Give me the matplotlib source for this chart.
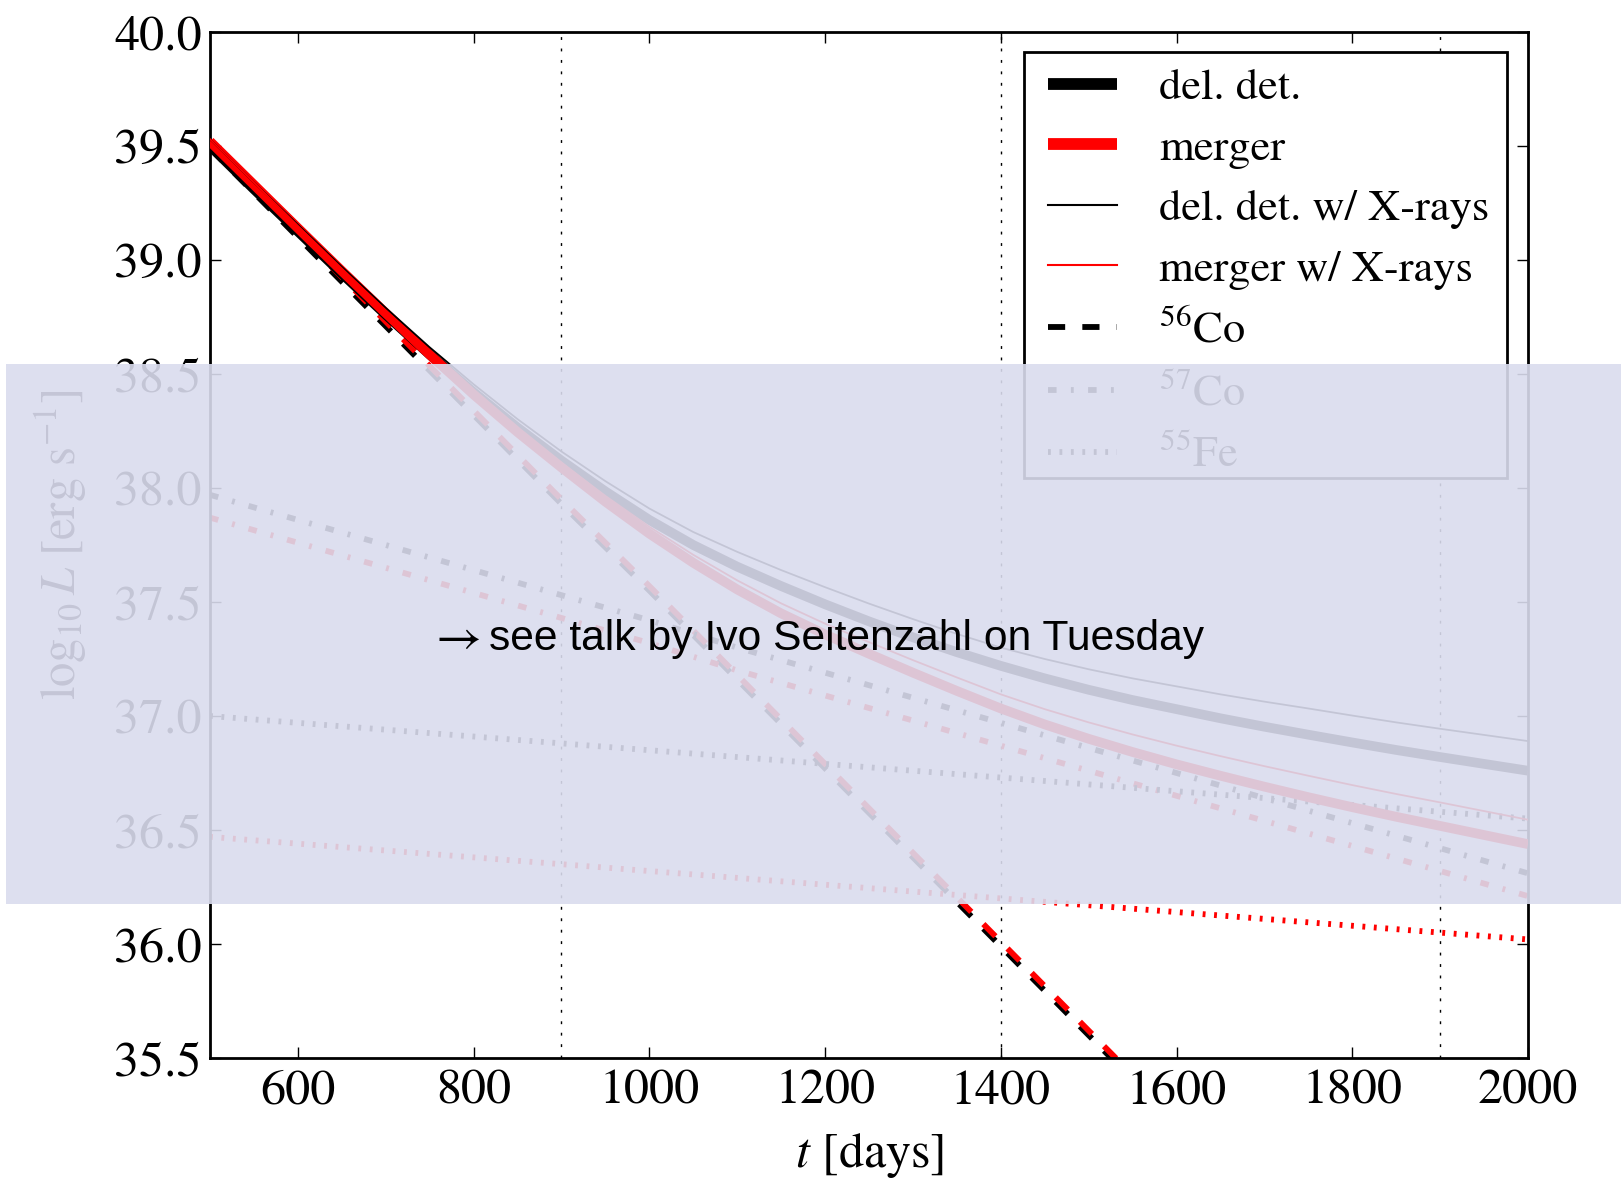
import matplotlib
matplotlib.use("Agg")
import matplotlib.pyplot as plt
from matplotlib.lines import Line2D
from matplotlib.patches import Rectangle

plt.rcParams["font.family"] = ["STIXGeneral", "DejaVu Serif"]
plt.rcParams["mathtext.fontset"] = "stix"
plt.rcParams["lines.scale_dashes"] = False

# Time grid [days] for the total light curves
t_fine = [500, 550, 600, 650, 700, 750, 800, 850, 900, 950, 1000, 1050, 1100, 1150,
          1200, 1250, 1300, 1350, 1400, 1450, 1500, 1550, 1600, 1650, 1700, 1750,
          1800, 1850, 1900, 1950, 2000]

# log10 L [erg/s] -- total light curves
deldet_total = [39.500, 39.310, 39.125, 38.940, 38.760, 38.585, 38.420, 38.265, 38.120,
                37.985, 37.860, 37.750, 37.655, 37.570, 37.490, 37.415, 37.345, 37.280,
                37.220, 37.165, 37.115, 37.070, 37.030, 36.990, 36.953, 36.918, 36.884,
                36.851, 36.820, 36.790, 36.760]
merger_total = [39.520, 39.330, 39.140, 38.952, 38.767, 38.585, 38.410, 38.245, 38.090,
                37.940, 37.800, 37.672, 37.555, 37.450, 37.358, 37.273, 37.190, 37.110,
                37.033, 36.963, 36.900, 36.842, 36.788, 36.738, 36.690, 36.644, 36.600,
                36.558, 36.518, 36.478, 36.438]
deldet_xray = [39.530, 39.340, 39.155, 38.970, 38.790, 38.617, 38.455, 38.302, 38.160,
               38.030, 37.910, 37.807, 37.720, 37.640, 37.565, 37.493, 37.425, 37.360,
               37.300, 37.250, 37.205, 37.165, 37.130, 37.095, 37.063, 37.033, 37.002,
               36.972, 36.944, 36.917, 36.890]
merger_xray = [39.530, 39.340, 39.150, 38.963, 38.779, 38.599, 38.425, 38.262, 38.110,
               37.965, 37.830, 37.707, 37.595, 37.494, 37.405, 37.324, 37.245, 37.169,
               37.095, 37.030, 36.972, 36.919, 36.870, 36.824, 36.780, 36.738, 36.697,
               36.658, 36.621, 36.583, 36.545]

# Time grid [days] for the individual isotopes
t_days = [500, 600, 700, 800, 900, 1000, 1100, 1200, 1300, 1400,
          1500, 1600, 1700, 1800, 1900, 2000]

co56_deldet = [39.49, 39.10, 38.71, 38.32, 37.93, 37.55, 37.16, 36.77, 36.38, 35.99,
               35.60, 35.21, 34.82, 34.43, 34.04, 33.65]
co56_merger = [39.51, 39.12, 38.73, 38.34, 37.95, 37.57, 37.18, 36.79, 36.40, 36.01,
               35.62, 35.23, 34.84, 34.45, 34.06, 33.67]
co57_deldet = [37.97, 37.86, 37.75, 37.64, 37.53, 37.42, 37.30, 37.19, 37.08, 36.97,
               36.86, 36.75, 36.64, 36.53, 36.42, 36.31]
co57_merger = [37.87, 37.76, 37.65, 37.54, 37.43, 37.32, 37.20, 37.09, 36.98, 36.87,
               36.76, 36.65, 36.54, 36.43, 36.32, 36.21]
fe55_deldet = [37.00, 36.97, 36.94, 36.91, 36.88, 36.85, 36.82, 36.79, 36.76, 36.73,
               36.70, 36.67, 36.64, 36.61, 36.58, 36.55]
fe55_merger = [36.47, 36.44, 36.41, 36.38, 36.35, 36.32, 36.29, 36.26, 36.23, 36.20,
               36.17, 36.14, 36.11, 36.08, 36.05, 36.02]

epochs = [900, 1400, 1900]

x_ticks = [600, 800, 1000, 1200, 1400, 1600, 1800, 2000]
y_ticks = [35.5, 36.0, 36.5, 37.0, 37.5, 38.0, 38.5, 39.0, 39.5, 40.0]

legend_labels = ["del. det.", "merger", "del. det. w/ X-rays", "merger w/ X-rays",
                 r"$^{56}$Co", r"$^{57}$Co", r"$^{55}$Fe"]
note_arrow = r"$\rightarrow$"
note_text = "see talk by Ivo Seitenzahl on Tuesday"

# dash patterns (points)
u = 2.06
DASHED = (6 * u, 6 * u)
DASHDOT = (3 * u, 5 * u, 1 * u, 5 * u)
DOTTED = (1 * u, 3 * u)

W, H = 1621, 1179
fig = plt.figure(figsize=(W / 100, H / 100), dpi=100)
ax = fig.add_axes([210 / W, 1 - 1058 / H, 1318 / W, 1026 / H])

for e in epochs:
    ax.axvline(e, color="black", lw=1.0, dashes=DOTTED, zorder=1)

comp_lw = 4.2
ax.plot(t_days, co56_deldet, color="black", lw=comp_lw, dashes=DASHED, zorder=2)
ax.plot(t_days, co56_merger, color="red", lw=comp_lw, dashes=DASHED, zorder=2)
ax.plot(t_days, co57_deldet, color="black", lw=comp_lw, dashes=DASHDOT, zorder=2)
ax.plot(t_days, co57_merger, color="red", lw=comp_lw, dashes=DASHDOT, zorder=2)
ax.plot(t_days, fe55_deldet, color="black", lw=comp_lw, dashes=DOTTED, zorder=2)
ax.plot(t_days, fe55_merger, color="red", lw=comp_lw, dashes=DOTTED, zorder=2)

ax.plot(t_fine, deldet_total, color="black", lw=7.0, zorder=3, solid_capstyle="butt")
ax.plot(t_fine, merger_total, color="red", lw=7.0, zorder=3, solid_capstyle="butt")
ax.plot(t_fine, deldet_xray, color="black", lw=1.3, zorder=4)
ax.plot(t_fine, merger_xray, color="red", lw=1.3, zorder=4)

ax.set_xlim(500, 2000)
ax.set_ylim(35.5, 40.0)
ax.set_xticks(x_ticks)
ax.set_yticks(y_ticks)
ax.set_xticklabels([str(v) for v in x_ticks])
ax.set_yticklabels(["%.1f" % v for v in y_ticks])
ax.tick_params(direction="in", length=8.2, width=1.0, top=True, right=True,
               labelsize=36, color="black")
ax.tick_params(axis="x", pad=8)
ax.tick_params(axis="y", pad=6)
for s in ax.spines.values():
    s.set_linewidth(2.0)

ax.set_xlabel(r"$t$ [days]", fontsize=36, labelpad=12)
ax.set_ylabel(r"$\log_{10}L$ [erg s$^{-1}$]", fontsize=35, labelpad=18)

# legend: boxed key in the upper right corner
frame = Rectangle((1024 / W, 1 - 478 / H), (1507 - 1024) / W, (478 - 52) / H,
                  transform=fig.transFigure, facecolor="white", edgecolor="black",
                  linewidth=2.0, zorder=9)
fig.add_artist(frame)

handles = [
    Line2D([], [], color="black", lw=8.5, solid_capstyle="butt"),
    Line2D([], [], color="red", lw=8.5, solid_capstyle="butt"),
    Line2D([], [], color="black", lw=1.5),
    Line2D([], [], color="red", lw=1.5),
    Line2D([], [], color="black", lw=comp_lw, dashes=DASHED),
    Line2D([], [], color="black", lw=comp_lw, dashes=DASHDOT),
    Line2D([], [], color="black", lw=comp_lw, dashes=DOTTED),
]
leg = fig.legend(handles, legend_labels, loc="upper left",
                 bbox_to_anchor=(1048 / W, 1 - 68 / H), borderaxespad=0,
                 fontsize=32, handlelength=1.55, handletextpad=0.95,
                 labelspacing=0.46, borderpad=0.0, frameon=False)
leg.set_zorder(10)

# translucent banner with the note on top
band = Rectangle((6 / W, 1 - 904 / H), 1 - 6 / W, (904 - 364) / H,
                 transform=fig.transFigure, facecolor=(218 / 255, 220 / 255, 238 / 255),
                 alpha=0.9, edgecolor="none", zorder=50)
fig.add_artist(band)
fig.text(428 / W, 1 - 651 / H, note_arrow, fontsize=36, color="black",
         ha="left", va="baseline", zorder=60)
fig.text(489 / W, 1 - 650 / H, note_text, fontsize=30.7,
         family=["Liberation Sans", "DejaVu Sans"], color="black",
         ha="left", va="baseline", zorder=60)

fig.savefig("out.png", dpi=100)
